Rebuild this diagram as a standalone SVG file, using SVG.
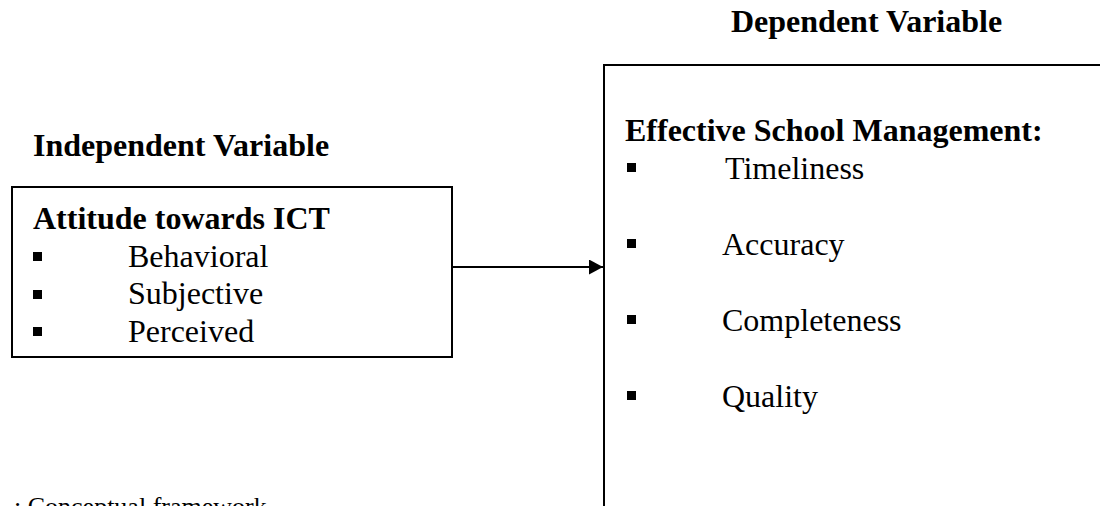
<svg xmlns="http://www.w3.org/2000/svg" width="1100" height="506" viewBox="0 0 1100 506">
<style>
.t{font-family:"Liberation Serif","Times New Roman",serif;fill:#000}
.b{font-weight:bold;font-size:32px}
.r{font-size:32px}
.box{fill:#fff;stroke:#000;stroke-width:2}
.blt{fill:#000}
.conn{stroke:#000;stroke-width:2;fill:none}
</style>
<defs>
<marker id="ah" markerWidth="14" markerHeight="15" refX="14" refY="7.5" orient="auto" markerUnits="userSpaceOnUse">
<path d="M0,0 L14,7.5 L0,15 Z" fill="#000"/>
</marker>
</defs>
<rect width="1100" height="506" fill="#fff"/>
<text class="t b" x="731" y="32">Dependent Variable</text>
<text class="t b" x="33" y="156">Independent Variable</text>
<g id="independent">
<rect class="box" x="12" y="187" width="440" height="170"/>
<text class="t b" x="33" y="229">Attitude towards ICT</text>
<rect class="blt" x="33" y="252" width="9" height="9"/>
<text class="t r" x="128" y="266.5">Behavioral</text>
<rect class="blt" x="33" y="290" width="9" height="9"/>
<text class="t r" x="128" y="304">Subjective</text>
<rect class="blt" x="33" y="327" width="9" height="9"/>
<text class="t r" x="128" y="341.5">Perceived</text>
</g>
<g id="dependent">
<rect class="box" x="604" y="65" width="600" height="600"/>
<text class="t b" x="625" y="141">Effective School Management:</text>
<rect class="blt" x="627" y="163" width="9" height="9"/>
<text class="t r" x="725" y="179">Timeliness</text>
<rect class="blt" x="627" y="239" width="9" height="9"/>
<text class="t r" x="722" y="255">Accuracy</text>
<rect class="blt" x="627" y="315" width="9" height="9"/>
<text class="t r" x="722" y="331">Completeness</text>
<rect class="blt" x="627" y="391" width="9" height="9"/>
<text class="t r" x="722" y="407">Quality</text>
</g>
<g id="connectors">
<line class="conn" x1="452" y1="267" x2="603" y2="267" marker-end="url(#ah)"/>
</g>
<text class="t" style="font-size:26px" x="14" y="515">: Conceptual framework</text>
</svg>
